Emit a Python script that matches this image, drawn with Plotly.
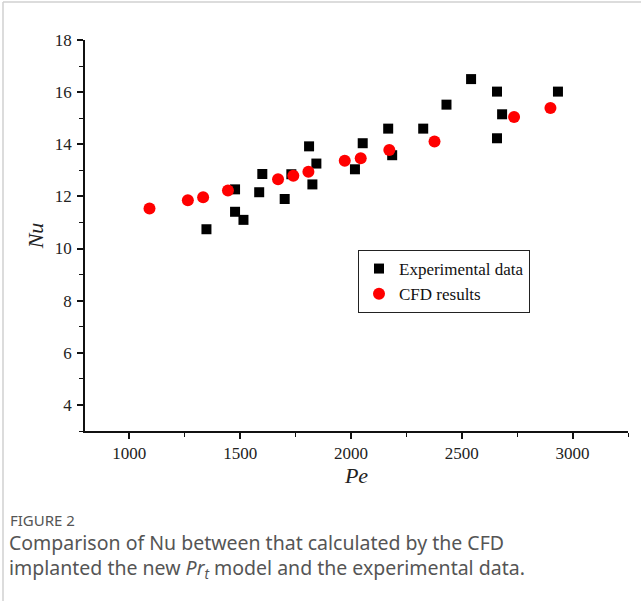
import plotly.graph_objects as go

# Experimental data (black squares)
exp_pe = [1348, 1477, 1477, 1515, 1586, 1600, 1701, 1731, 1811, 1826, 1844,
          2018, 2053, 2168, 2186, 2326, 2431, 2542, 2659, 2659, 2682, 2934]
exp_nu = [10.74, 12.27, 11.41, 11.10, 12.16, 12.86, 11.90, 12.85, 13.92, 12.46, 13.26,
          13.04, 14.04, 14.60, 13.58, 14.60, 15.52, 16.50, 16.02, 14.23, 15.15, 16.02]

# CFD results (red circles)
cfd_pe = [1091, 1264, 1333, 1445, 1671, 1740, 1808, 1972, 2044, 2173, 2377, 2736, 2900]
cfd_nu = [11.54, 11.85, 11.97, 12.23, 12.66, 12.79, 12.95, 13.37, 13.46, 13.78, 14.11, 15.05, 15.39]

x_ticks = [1000, 1500, 2000, 2500, 3000]
y_ticks = [4, 6, 8, 10, 12, 14, 16, 18]

W, H = 641, 601
L, R, T, B = 85, 13, 40, 170
pw, ph = W - L - R, H - T - B

def px(x):
    return (x - L) / pw

def py(y):
    return (H - B - y) / ph

serif = "Liberation Serif"
sans = "Noto Sans"

fig = go.Figure()
fig.add_trace(go.Scatter(x=exp_pe, y=exp_nu, mode="markers", name="Experimental data",
                         marker=dict(symbol="square", size=10, color="black")))
fig.add_trace(go.Scatter(x=cfd_pe, y=cfd_nu, mode="markers", name="CFD results",
                         marker=dict(symbol="circle", size=12, color="#ff0000")))

axis_common = dict(showgrid=False, zeroline=False, showline=True, linecolor="#111",
                   linewidth=1.5, ticks="outside", ticklen=6, tickwidth=1.5, tickcolor="#111",
                   tickfont=dict(family=serif, size=17, color="#222"))

fig.update_xaxes(range=[800, 3250], tickvals=x_ticks, **axis_common, ticklabelstandoff=0,
                 minor=dict(dtick=250, tick0=0, ticks="outside", ticklen=4, tickwidth=1.2, tickcolor="#111"),
                 title=dict(text="<i>Pe</i>", font=dict(family=serif, size=22, color="#222"), standoff=4))
fig.update_yaxes(range=[3, 18], tickvals=y_ticks, **axis_common, ticklabelstandoff=2,
                 minor=dict(dtick=1, tick0=0, ticks="outside", ticklen=4, tickwidth=1.2, tickcolor="#111"),
                 title=dict(text="<i>Nu</i>", font=dict(family=serif, size=22, color="#222"), standoff=5))

fig.update_layout(
    width=W, height=H, margin=dict(l=L, r=R, t=T, b=B),
    paper_bgcolor="white", plot_bgcolor="white",
    showlegend=True,
    legend=dict(x=px(358), y=py(250), xanchor="left", yanchor="top",
                bordercolor="#222", borderwidth=1, bgcolor="white",
                font=dict(family=serif, size=17, color="#111"),
                itemwidth=30, tracegroupgap=0),
)

# card border (top and left)
fig.add_shape(type="line", xref="paper", yref="paper", x0=px(3), x1=px(641), y0=py(2), y1=py(2),
              line=dict(color="#d0d0d0", width=1.5))
fig.add_shape(type="line", xref="paper", yref="paper", x0=px(3), x1=px(3), y0=py(2), y1=py(601),
              line=dict(color="#d0d0d0", width=1.5))

fig.add_annotation(text="FIGURE 2", xref="paper", yref="paper", x=px(8), y=py(520),
                   xanchor="left", yanchor="middle", showarrow=False,
                   font=dict(family=sans, size=15, color="#555"))
fig.add_annotation(text="Comparison of Nu between that calculated by the CFD<br>"
                        "implanted the new <i>Pr</i><sub><i>t</i></sub> model and the experimental data.",
                   xref="paper", yref="paper", align="left",
                   x=px(7), y=py(527), xanchor="left", yanchor="top", showarrow=False,
                   font=dict(family=sans, size=19.5, color="#555"))

fig.write_html("out.html")
